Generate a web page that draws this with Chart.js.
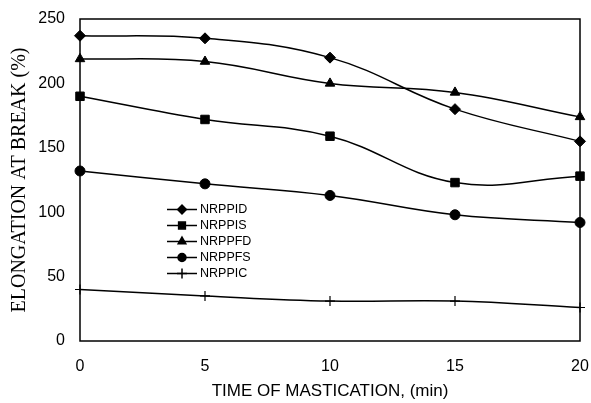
<!DOCTYPE html>
<html>
<head>
<meta charset="utf-8">
<script src="https://cdn.jsdelivr.net/npm/chart.js@4/dist/chart.umd.min.js"></script>
<style>
  html, body { margin: 0; padding: 0; background: #fff; }
  #wrap { width: 591px; height: 403px; }
</style>
</head>
<body>
<div id="wrap"><canvas id="chart" width="591" height="403"></canvas></div>
<script>
// data
const minutes = [0, 5, 10, 15, 20];
const nrppid = [237, 235, 220, 180, 155];
const nrppis = [190, 172, 159, 123, 128];
const nrppfd = [219, 217, 200, 193, 174];
const nrppfs = [132, 122, 113, 98, 92];
const nrppic = [40, 35, 31, 31, 26];
const yTicks = [0, 50, 100, 150, 200, 250];
const xTicks = [0, 5, 10, 15, 20];

const toPoints = (vals) => vals.map((v, i) => ({ x: minutes[i], y: v }));

function series(label, vals, style, radius) {
  return {
    label: label,
    data: toPoints(vals),
    borderColor: "#000",
    backgroundColor: "#000",
    borderWidth: 1.5,
    pointStyle: style,
    pointRadius: radius,
    pointBorderWidth: style === "cross" ? 1.2 : 1,
    tension: 0.4,
    clip: false,
  };
}

// frame around the plot area
const framePlugin = {
  id: "frame",
  beforeDatasetsDraw(chart) {
    const a = chart.chartArea;
    const ctx = chart.ctx;
    ctx.save();
    ctx.strokeStyle = "#000";
    ctx.lineWidth = 1.5;
    ctx.strokeRect(a.left, a.top, a.right - a.left, a.bottom - a.top);
    ctx.restore();
  },
};

// legend drawn inside the plot, line with marker like the original
const insideLegend = {
  id: "insideLegend",
  afterDraw(chart) {
    const ctx = chart.ctx;
    const x0 = 167, lineLen = 30, rowH = 16;
    let y = 209.5;
    ctx.save();
    ctx.font = "12.5px 'Liberation Sans', Arial, sans-serif";
    ctx.textBaseline = "middle";
    ctx.fillStyle = "#000";
    chart.data.datasets.forEach((ds) => {
      ctx.strokeStyle = "#000";
      ctx.lineWidth = 1.5;
      ctx.beginPath();
      ctx.moveTo(x0, y);
      ctx.lineTo(x0 + lineLen, y);
      ctx.stroke();
      ctx.fillStyle = "#000";
      Chart.helpers.drawPoint(ctx, {
        pointStyle: ds.pointStyle,
        radius: ds.pointStyle === "cross" ? 5 : ds.pointRadius * 0.8,
        rotation: 0,
        borderWidth: ds.pointBorderWidth,
      }, x0 + lineLen / 2, y);
      ctx.fillText(ds.label, x0 + lineLen + 3, y + 0.5);
      y += rowH;
    });
    ctx.restore();
  },
};

const noEdgePadding = (s) => {
  s.paddingLeft = 0;
  s.paddingRight = 0;
  s.paddingTop = 0;
  s.paddingBottom = 0;
};

new Chart(document.getElementById("chart"), {
  type: "line",
  data: {
    datasets: [
      series("NRPPID", nrppid, "rectRot", 5.5),
      series("NRPPIS", nrppis, "rect", 6),
      series("NRPPFD", nrppfd, "triangle", 5.5),
      series("NRPPFS", nrppfs, "circle", 5),
      series("NRPPIC", nrppic, "cross", 5),
    ],
  },
  options: {
    responsive: false,
    animation: false,
    devicePixelRatio: 1,
    layout: { padding: { top: 19, right: 11, left: 0, bottom: 0 } },
    plugins: {
      legend: { display: false },
      tooltip: { enabled: false },
    },
    scales: {
      x: {
        type: "linear",
        min: 0,
        max: 20,
        afterFit: (s) => { s.height = 62; noEdgePadding(s); },
        afterBuildTicks: (s) => { s.ticks = xTicks.map((v) => ({ value: v })); },
        grid: { display: false, drawTicks: false, tickLength: 0 },
        border: { display: false },
        ticks: {
          color: "#000",
          padding: 16,
          font: { family: "'Liberation Sans', Arial, sans-serif", size: 16 },
        },
        title: {
          display: true,
          text: "TIME OF MASTICATION, (min)",
          color: "#000",
          padding: { top: 0, bottom: 1 },
          font: { family: "'Liberation Sans', Arial, sans-serif", size: 17 },
        },
      },
      y: {
        min: 0,
        max: 250,
        afterFit: (s) => { s.width = 80; noEdgePadding(s); },
        afterBuildTicks: (s) => { s.ticks = yTicks.map((v) => ({ value: v })); },
        grid: { display: false, drawTicks: false, tickLength: 0 },
        border: { display: false },
        ticks: {
          color: "#000",
          padding: 15,
          font: { family: "'Liberation Sans', Arial, sans-serif", size: 16 },
        },
        title: {
          display: true,
          text: "ELONGATION AT BREAK (%)",
          color: "#000",
          padding: { top: 8, bottom: 0 },
          font: { family: "'Liberation Serif', 'Times New Roman', serif", size: 20 },
        },
      },
    },
  },
  plugins: [framePlugin, insideLegend],
});
</script>
</body>
</html>
